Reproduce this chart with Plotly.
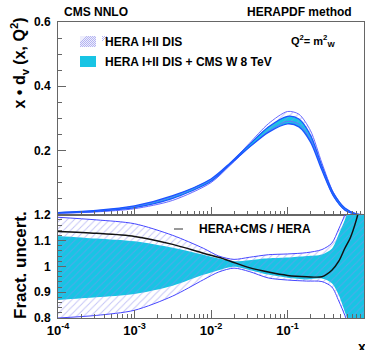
import plotly.graph_objects as go
from plotly.subplots import make_subplots

# ---------------- data ----------------
# top panel: x * d_v(x, Q^2) bands
x_top = [1e-4, 3.16e-4, 1e-3, 3.16e-3, 1e-2, 1.78e-2, 3.16e-2, 5.62e-2,
         0.1, 0.141, 0.2, 0.282, 0.398, 0.562, 0.794, 1.0]
hera_hi_top = [0.0063, 0.0125, 0.0261, 0.0568, 0.1097, 0.1607, 0.2217, 0.2832,
               0.3214, 0.3129, 0.2616, 0.1608, 0.0693, 0.0200, 0.0024, 0.0]
hera_lo_top = [0.0042, 0.0086, 0.0186, 0.0446, 0.0998, 0.1537, 0.2097, 0.2588,
               0.2907, 0.2816, 0.2339, 0.1419, 0.0582, 0.0136, 0.0010, 0.0]
cms_hi_top = [0.0067, 0.0133, 0.0274, 0.0591, 0.1113, 0.1612, 0.2181, 0.2730,
              0.3064, 0.2979, 0.2475, 0.1515, 0.0674, 0.0212, 0.0027, 0.0]
cms_lo_top = [0.0052, 0.0106, 0.0223, 0.0509, 0.1040, 0.1572, 0.2100, 0.2565,
              0.2830, 0.2735, 0.2261, 0.1382, 0.0583, 0.0148, 0.0013, 0.0]

# bottom panel: fractional uncertainties and ratio of central values
x_ratio = [1e-4, 3.16e-4, 1e-3, 3.16e-3, 7.94e-3, 1.26e-2, 2.0e-2, 3.16e-2,
           5.62e-2, 0.1, 0.178, 0.282, 0.380, 0.468, 0.562, 0.661, 0.794, 1.0]
hera_up = [1.19, 1.18, 1.165, 1.12, 1.07, 1.04, 1.027, 1.035,
           1.045, 1.048, 1.053, 1.065, 1.09, 1.145, 1.20, 1.27, 1.40, 1.60]
hera_dn = [0.80, 0.81, 0.83, 0.885, 0.948, 0.978, 0.993, 0.98,
           0.955, 0.947, 0.943, 0.941, 0.92, 0.866, 0.81, 0.75, 0.60, 0.40]
cms_up = [1.118, 1.108, 1.097, 1.072, 1.045, 1.03, 1.02, 1.024,
          1.031, 1.034, 1.04, 1.046, 1.068, 1.125, 1.18, 1.25, 1.35, 1.50]
cms_dn = [0.87, 0.88, 0.893, 0.925, 0.967, 0.985, 0.998, 0.986,
          0.968, 0.956, 0.949, 0.953, 0.935, 0.889, 0.824, 0.76, 0.65, 0.50]
ratio_central = [1.135, 1.128, 1.116, 1.085, 1.051, 1.035, 1.015, 0.995,
                 0.978, 0.965, 0.960, 0.960, 0.985, 1.020, 1.070, 1.110, 1.180, 1.30]

x_tickvals = [1e-4, 1e-3, 1e-2, 1e-1]
x_ticktext = ["10<sup>-4</sup>", "10<sup>-3</sup>", "10<sup>-2</sup>", "10<sup>-1</sup>"]
top_tickvals = [0.2, 0.4, 0.6]
top_ticktext = ["0.2", "0.4", "0.6"]
bot_tickvals = [0.8, 0.9, 1.0, 1.1, 1.2]
bot_ticktext = ["0.8", "0.9", "1", "1.1", "1.2"]

# ---------------- style ----------------
CYAN = "#18c4e4"
HATCH = "#8c8cee"
HERA_LINE = "#4646ff"
CMS_EDGE = "#1a55ff"
AX = "#666666"
FONT = "Liberation Sans"

W, H = 365, 350
L, R, T, B = 58, 1, 22, 32
PW, PH = W - L - R, H - T - B


def px(xp):
    return (xp - L) / PW


def py(yp):
    return (H - B - yp) / PH


fig = make_subplots(rows=2, cols=1, shared_xaxes=True)


def band(x, hi, lo, row, **kw):
    fig.add_trace(go.Scatter(x=list(x) + list(x)[::-1], y=list(hi) + list(lo)[::-1],
                             mode="lines", fill="toself", line=dict(width=0, shape="spline", smoothing=0.8),
                             hoverinfo="skip", showlegend=False, **kw), row=row, col=1)


def line(x, y, row, color, width):
    fig.add_trace(go.Scatter(x=x, y=y, mode="lines",
                             line=dict(color=color, width=width, shape="spline", smoothing=0.8),
                             hoverinfo="skip", showlegend=False), row=row, col=1)


hatch = dict(shape="/", fgcolor=HATCH, bgcolor="rgba(255,255,255,0)", size=5,
             solidity=0.2, fillmode="overlay")

# top panel
band(x_top, cms_hi_top, cms_lo_top, 1, fillcolor=CYAN)
band(x_top, hera_hi_top, hera_lo_top, 1, fillcolor="rgba(255,255,255,0)", fillpattern=hatch)
line(x_top, hera_hi_top, 1, "#6a6aff", 1)
line(x_top, hera_lo_top, 1, "#6a6aff", 1)
line(x_top, cms_hi_top, 1, CMS_EDGE, 1.3)
line(x_top, cms_lo_top, 1, CMS_EDGE, 1.3)

# bottom panel
band(x_ratio, cms_up, cms_dn, 2, fillcolor=CYAN)
band(x_ratio, hera_up, hera_dn, 2, fillcolor="rgba(255,255,255,0)", fillpattern=hatch)
line(x_ratio, hera_up, 2, HERA_LINE, 1)
line(x_ratio, hera_dn, 2, HERA_LINE, 1)
line(x_ratio, ratio_central, 2, "#111111", 1.5)

tickfont = dict(family=FONT, size=12, color="black", weight="bold")

xcommon = dict(type="log", range=[-4, 0], showgrid=False, zeroline=False, automargin=False,
               showline=True, linecolor=AX, linewidth=1, mirror=True,
               ticks="inside", ticklen=8, tickcolor=AX, tickwidth=1,
               tickvals=x_tickvals, ticktext=x_ticktext,
               minor=dict(ticks="inside", ticklen=4, tickcolor=AX, dtick="D1", showgrid=False))

fig.update_layout(
    width=W, height=H, margin=dict(l=L, r=R, t=T, b=B, autoexpand=False),
    paper_bgcolor="white", plot_bgcolor="white", showlegend=False,
    xaxis=dict(**xcommon, domain=[0, 1], showticklabels=False, anchor="y"),
    xaxis2=dict(**xcommon, domain=[0, 1], showticklabels=True, anchor="y2",
                tickfont=dict(family=FONT, size=13, color="black", weight="bold")),
    yaxis=dict(domain=[0.349, 1], range=[0, 0.6], showgrid=False, zeroline=False,
               showline=True, linecolor=AX, mirror=True, automargin=False,
               ticks="inside", ticklen=8, tickcolor=AX,
               tickvals=top_tickvals, ticktext=top_ticktext, tickfont=tickfont,
               ticklabelstandoff=4,
               minor=dict(ticks="inside", ticklen=4, tickcolor=AX, dtick=0.05, showgrid=False)),
    yaxis2=dict(domain=[0, 0.349], range=[0.8, 1.2], showgrid=False, zeroline=False,
                showline=True, linecolor=AX, mirror=True, automargin=False,
                ticks="inside", ticklen=8, tickcolor=AX,
                tickvals=bot_tickvals, ticktext=bot_ticktext, tickfont=tickfont,
                ticklabelstandoff=4,
                minor=dict(ticks="inside", ticklen=4, tickcolor=AX, dtick=0.02, showgrid=False)),
)

bold = dict(family=FONT, color="black", weight="bold")


def note(text, xp, yp, size, xanchor="left", yanchor="middle", angle=0):
    fig.add_annotation(text=text, x=px(xp), y=py(yp), xref="paper", yref="paper",
                       xanchor=xanchor, yanchor=yanchor, showarrow=False,
                       textangle=angle, font=dict(size=size, **bold))


note("CMS NNLO", 62, 12, 12)
note("HERAPDF method", 354, 12, 12, xanchor="right")
note("Q<sup>2</sup>= m<sup>2</sup><sub>W</sub>", 289, 41, 11)
note("HERA I+II DIS", 103, 42, 12)
note("HERA I+II DIS + CMS W 8 TeV", 103, 62, 12)
note("HERA+CMS / HERA", 197, 229, 12)
note("x • d<sub>v</sub> (x, Q<sup>2</sup>)", 19, 16, 16, xanchor="center", yanchor="top", angle=-90)
note("Fract. uncert.", 20, 265, 17, xanchor="center", yanchor="middle", angle=-90)
note("x", 362, 337, 14, xanchor="center", yanchor="top")

# legend swatches
fig.add_shape(type="rect", xref="paper", yref="paper", x0=px(80), x1=px(96), y0=py(47), y1=py(36),
              fillcolor="#eeeefc", line=dict(width=0))
path = ""
for k in range(-2, 9):
    xa, ya = 80 + 2 * k, 47
    xb, yb = xa + 11, 36
    path += f"M{px(xa)},{py(ya)} L{px(xb)},{py(yb)} "
fig.add_shape(type="path", xref="paper", yref="paper", path=path,
              line=dict(color="#b4b4f2", width=1))
# cover overflow of hatch lines
fig.add_shape(type="rect", xref="paper", yref="paper", x0=px(70), x1=px(80), y0=py(48), y1=py(34),
              fillcolor="white", line=dict(width=0))
fig.add_shape(type="rect", xref="paper", yref="paper", x0=px(96), x1=px(102), y0=py(48), y1=py(34),
              fillcolor="white", line=dict(width=0))
fig.add_shape(type="rect", xref="paper", yref="paper", x0=px(80), x1=px(96), y0=py(67), y1=py(56),
              fillcolor=CYAN, line=dict(width=0))
fig.add_shape(type="line", xref="paper", yref="paper", x0=px(174), x1=px(183), y0=py(229), y1=py(229),
              line=dict(color="#999999", width=2))

fig.write_html("out.html", config={"displayModeBar": False},
               post_script="document.body.style.margin='0';document.body.style.overflow='hidden';")
